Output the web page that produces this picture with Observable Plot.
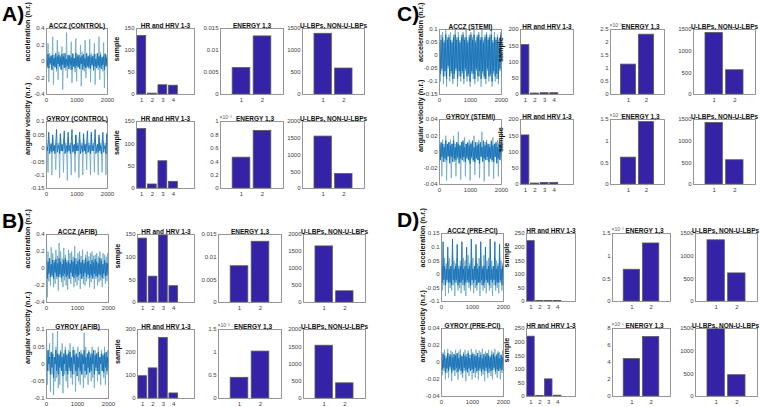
<!DOCTYPE html>
<html><head><meta charset="utf-8">
<script src="https://cdn.jsdelivr.net/npm/d3@7"></script>
<script src="https://cdn.jsdelivr.net/npm/@observablehq/plot@0.6"></script>
<style>
html,body{margin:0;padding:0}
body{background:#fff;width:760px;height:407px;position:relative;overflow:hidden;font-family:"Liberation Sans",Arial,sans-serif}
.p{position:absolute;line-height:0}
.p svg{display:block}
.lab{position:absolute;font-weight:bold;font-size:21px;line-height:21px;color:#000}
</style></head><body>
<div class="lab" style="left:2px;top:3px">A)</div>
<div class="lab" style="left:2px;top:210px">B)</div>
<div class="lab" style="left:397px;top:3px">C)</div>
<div class="lab" style="left:397px;top:209px">D)</div>
<script>
// ---------- DATA ----------
const hrCats = [1, 2, 3, 4];
const twoCats = [1, 2];
const hrTitle = "HR and HRV 1-3";
const enTitle = "ENERGY 1,3";
const lbpTitle = "U-LBPs, NON-U-LBPs";

const hrA1 = [133, 2, 21, 20];
const hrA2 = [133, 9, 61, 15];
const hrB1 = [141, 57, 148, 36];
const hrB2 = [97, 131, 263, 22];
const hrC1 = [152, 3, 4, 4];
const hrC2 = [151, 3, 5, 5];
const hrD1 = [222, 2, 2, 2];
const hrD2 = [220, 2, 63, 3];
const enA1 = [0.006, 0.0132];
const enA2 = [0.46e-3, 0.86e-3];
const enB1 = [0.008, 0.0134];
const enB2 = [0.45e-3, 1.02e-3];
const enC1 = [1.15e-3, 2.3e-3];
const enC2 = [0.62e-4, 1.44e-4];
const enD1 = [0.7e-3, 1.28e-3];
const enD2 = [4.4e-5, 7.0e-5];
const lbpA1 = [1380, 590];
const lbpA2 = [1550, 430];
const lbpB1 = [1650, 330];
const lbpB2 = [1530, 440];
const lbpC1 = [1420, 560];
const lbpC2 = [1420, 560];
const lbpD1 = [1350, 620];
const lbpD2 = [1500, 470];

const sigXTicks = [0, 1000, 2000];
const accTicksAB = [-0.4, -0.2, 0, 0.2, 0.4];
const gyrTicksA = [-0.15, -0.1, -0.05, 0, 0.05, 0.1];
const gyrTicksB = [-0.1, -0.05, 0, 0.05, 0.1];
const accTicksC = [-0.15, -0.1, -0.05, 0, 0.05, 0.1];
const gyrTicksCD = [-0.04, -0.02, 0, 0.02, 0.04];
const accTicksD = [-0.1, -0.05, 0, 0.05, 0.1, 0.15];
const hrTicks150 = [0, 50, 100, 150];
const hrTicks200 = [0, 50, 100, 150, 200];
const hrTicks250 = [0, 50, 100, 150, 200, 250];
const hrTicks300 = [0, 100, 200, 300];
const enTicks015 = [0, 0.005, 0.01, 0.015];
const enTicksA2 = [0, 0.2e-3, 0.4e-3, 0.6e-3, 0.8e-3, 1e-3];
const enTicksB2 = [0, 0.5e-3, 1e-3, 1.5e-3];
const enTicksC1 = [0, 0.5e-3, 1e-3, 1.5e-3, 2e-3, 2.5e-3];
const enTicksC2 = [0, 0.5e-4, 1e-4, 1.5e-4];
const enTicksD1 = [0, 0.5e-3, 1e-3, 1.5e-3];
const enTicksD2 = [0, 2e-5, 4e-5, 6e-5, 8e-5];
const lbpTicks1500 = [0, 500, 1000, 1500];
const lbpTicks2000 = [0, 500, 1000, 1500, 2000];

const accA_l = [0.05,-0.08,0.22,-0.25,0.1,-0.04,0.06,-0.1,0.3,-0.28,0.08,-0.06,0.04,-0.12,0.26,-0.22,0.12,-0.05,0.07,-0.09,0.18,-0.34,0.1,-0.03,0.05,-0.11,0.35,-0.2,0.06,-0.07,0.08,-0.1,0.24,-0.26,0.1,-0.05,0.04,-0.13,0.28,-0.24,0.09,-0.06,0.06,-0.08,0.2,-0.3,0.12,-0.04,0.05,-0.12,0.26,-0.2,0.08,-0.07,0.07,-0.09,0.27,-0.25,0.1,-0.05,0.04,-0.11,0.22,-0.28,0.09,-0.06,0.06,-0.1,0.3,-0.22,0.11,-0.05,0.05,-0.12,0.23,-0.32,0.1,-0.04,0.08,-0.2];
const accA_d = [0.03,-0.06,0.09,-0.08,0.05,-0.02,0.07,-0.1,0.08,-0.05,0.04,-0.07,0.1,-0.09,0.06,-0.03,0.08,-0.06,0.05,-0.1,0.09,-0.04,0.06,-0.08,0.1,-0.07,0.03,-0.05,0.08,-0.09,0.07,-0.04,0.05,-0.1,0.09,-0.06,0.04,-0.08,0.1,-0.05,0.06,-0.07,0.08,-0.09,0.05,-0.03,0.07,-0.1,0.09,-0.06,0.04,-0.08,0.1,-0.05,0.06,-0.07,0.08,-0.09,0.05,-0.04,0.07,-0.1,0.09,-0.06,0.03,-0.08,0.1,-0.05,0.06,-0.07,0.08,-0.09,0.05,-0.04,0.07,-0.1,0.09,-0.06,0.04,-0.05];
const gyrA_l = [0.01,0.0,-0.09,0.03,0.01,-0.01,0.02,-0.1,0.04,0.0,0.01,-0.02,-0.08,0.02,0.01,0.0,0.02,-0.11,0.05,0.01,-0.01,0.01,-0.09,0.03,0.0,0.02,-0.01,-0.12,0.04,0.01,0.0,0.02,-0.1,0.02,0.01,-0.01,0.01,-0.09,0.05,0.0,0.02,-0.01,-0.11,0.03,0.01,0.0,0.02,-0.1,0.04,0.01,-0.01,0.01,-0.08,0.02,0.0,0.02,-0.01,-0.1,0.05,0.01,0.0,0.02,-0.09,0.03,0.01,-0.01,0.01,-0.1,0.04,0.0,0.02,-0.01,-0.09,0.03,0.01,0.0,0.02,-0.1,0.05,0.01];
const gyrA_d = [0.01,-0.01,0.02,0.06,-0.02,0.0,0.015,-0.015,0.05,-0.01,0.01,-0.02,0.02,0.07,-0.015,0.005,0.01,-0.02,0.055,-0.01,0.015,-0.01,0.02,0.065,-0.02,0.0,0.01,-0.015,0.06,-0.01,0.01,-0.02,0.02,0.07,-0.015,0.005,0.015,-0.02,0.05,-0.01,0.01,-0.01,0.02,0.06,-0.02,0.0,0.01,-0.015,0.055,-0.01,0.015,-0.02,0.02,0.065,-0.015,0.005,0.01,-0.02,0.06,-0.01,0.01,-0.01,0.02,0.07,-0.02,0.0,0.015,-0.015,0.05,-0.01,0.01,-0.02,0.02,0.06,-0.015,0.005,0.01,-0.02,0.055,0.0];
const accB_l = [0.36,-0.34,0.2,-0.15,0.12,-0.2,0.25,-0.1,0.18,-0.22,0.1,-0.18,0.22,-0.12,0.15,-0.26,0.3,-0.1,0.2,-0.16,0.12,-0.22,0.24,-0.14,0.16,-0.2,0.1,-0.25,0.22,-0.12,0.18,-0.18,0.2,-0.1,0.14,-0.22,0.26,-0.16,0.12,-0.2,0.18,-0.14,0.2,-0.24,0.15,-0.12,0.22,-0.18,0.1,-0.2,0.16,-0.15,0.2,-0.12,0.14,-0.22,0.18,-0.16,0.2,-0.1,0.15,-0.24,0.16,-0.12,0.18,-0.2,0.14,-0.16,0.2,-0.14,0.12,-0.22,0.18,-0.12,0.16,-0.18,0.14,-0.15,0.18,-0.1];
const accB_d = [0.1,-0.12,0.08,-0.06,0.12,-0.1,0.05,-0.08,0.1,-0.12,0.07,-0.05,0.11,-0.09,0.06,-0.1,0.12,-0.07,0.08,-0.11,0.05,-0.09,0.1,-0.06,0.12,-0.1,0.07,-0.08,0.09,-0.12,0.06,-0.05,0.1,-0.09,0.08,-0.11,0.12,-0.07,0.05,-0.1,0.09,-0.08,0.11,-0.06,0.07,-0.12,0.1,-0.09,0.06,-0.05,0.12,-0.1,0.08,-0.07,0.09,-0.11,0.05,-0.08,0.1,-0.12,0.07,-0.06,0.11,-0.09,0.08,-0.1,0.06,-0.07,0.12,-0.08,0.09,-0.11,0.05,-0.06,0.1,-0.09,0.07,-0.08,0.06,-0.05];
const gyrB_l = [0.1,-0.06,0.04,-0.02,0.06,-0.08,0.03,-0.03,0.09,-0.09,0.02,-0.05,0.05,-0.04,0.095,-0.07,0.03,-0.06,0.04,-0.02,0.06,-0.085,0.02,-0.03,0.05,-0.05,0.03,-0.07,0.04,-0.02,0.06,-0.04,0.02,-0.06,0.05,-0.03,0.04,-0.08,0.03,-0.02,0.05,-0.05,0.02,-0.06,0.04,-0.03,0.03,-0.07,0.09,-0.04,0.05,-0.03,0.02,-0.06,0.04,-0.02,0.03,-0.05,0.05,-0.04,0.02,-0.07,0.04,-0.02,0.03,-0.05,0.05,-0.03,0.02,-0.06,0.04,-0.02,0.03,-0.04,0.05,-0.06,0.02,-0.03,0.04,-0.02];
const gyrB_d = [0.03,-0.02,0.04,0.0,0.02,-0.03,0.035,-0.01,0.03,-0.04,0.02,0.0,0.04,-0.02,0.03,-0.03,0.025,-0.01,0.035,-0.02,0.02,-0.035,0.03,0.0,0.04,-0.02,0.025,-0.03,0.03,-0.01,0.035,-0.02,0.02,-0.03,0.04,0.0,0.025,-0.02,0.03,-0.035,0.02,-0.01,0.035,-0.02,0.03,-0.03,0.025,0.0,0.04,-0.02,0.02,-0.03,0.03,-0.01,0.035,-0.025,0.02,-0.02,0.03,0.0,0.04,-0.03,0.025,-0.01,0.03,-0.02,0.035,-0.03,0.02,0.0,0.03,-0.02,0.025,-0.025,0.03,-0.01,0.035,-0.02,0.02,-0.01];
const accC_l = [0.05,-0.1,0.08,-0.06,0.09,-0.11,0.06,-0.08,0.1,-0.12,0.07,-0.05,0.08,-0.1,0.09,-0.07,0.06,-0.11,0.08,-0.09,0.1,-0.06,0.07,-0.12,0.09,-0.08,0.06,-0.1,0.08,-0.07,0.09,-0.11,0.07,-0.06,0.1,-0.1,0.06,-0.08,0.08,-0.12,0.09,-0.07,0.07,-0.09,0.1,-0.11,0.06,-0.06,0.08,-0.1,0.09,-0.08,0.07,-0.12,0.1,-0.07,0.06,-0.09,0.08,-0.11,0.09,-0.06,0.07,-0.1,0.08,-0.08,0.1,-0.12,0.06,-0.07,0.09,-0.1,0.07,-0.09,0.08,-0.11,0.06,-0.06,0.09,-0.08];
const accC_d = [0.04,-0.07,0.06,-0.05,0.07,-0.08,0.05,-0.06,0.08,-0.09,0.06,-0.04,0.07,-0.08,0.06,-0.06,0.05,-0.09,0.07,-0.07,0.08,-0.05,0.06,-0.09,0.07,-0.06,0.05,-0.08,0.07,-0.06,0.08,-0.09,0.06,-0.05,0.07,-0.08,0.05,-0.07,0.07,-0.1,0.08,-0.06,0.06,-0.07,0.08,-0.09,0.05,-0.05,0.07,-0.08,0.08,-0.06,0.06,-0.09,0.07,-0.06,0.05,-0.08,0.07,-0.09,0.08,-0.05,0.06,-0.08,0.07,-0.07,0.08,-0.1,0.05,-0.06,0.07,-0.08,0.06,-0.07,0.07,-0.09,0.05,-0.05,0.08,-0.06];
const gyrC_l = [0.005,-0.01,0.01,-0.03,0.015,-0.005,0.01,-0.012,0.02,-0.035,0.008,-0.006,0.012,-0.01,0.015,-0.032,0.01,-0.004,0.02,-0.012,0.01,-0.03,0.012,-0.008,0.025,-0.01,0.008,-0.034,0.01,-0.006,0.012,-0.012,0.018,-0.03,0.01,-0.005,0.01,-0.01,0.015,-0.035,0.012,-0.008,0.01,-0.012,0.02,-0.028,0.008,-0.006,0.012,-0.01,0.015,-0.032,0.01,-0.004,0.025,-0.012,0.01,-0.036,0.012,-0.008,0.015,-0.01,0.008,-0.03,0.01,-0.006,0.012,-0.012,0.018,-0.033,0.01,-0.005,0.01,-0.01,0.015,-0.03,0.012,-0.008,0.01,-0.005];
const gyrC_d = [0.008,-0.01,0.012,-0.006,0.01,-0.012,0.006,-0.008,0.014,-0.01,0.01,-0.005,0.012,-0.014,0.008,-0.006,0.01,-0.012,0.014,-0.008,0.006,-0.01,0.012,-0.006,0.01,-0.014,0.008,-0.008,0.012,-0.01,0.014,-0.006,0.006,-0.012,0.01,-0.008,0.012,-0.01,0.008,-0.014,0.01,-0.006,0.014,-0.01,0.006,-0.012,0.012,-0.008,0.008,-0.01,0.01,-0.014,0.012,-0.006,0.006,-0.012,0.014,-0.008,0.008,-0.01,0.012,-0.006,0.01,-0.012,0.006,-0.008,0.014,-0.01,0.008,-0.012,0.01,-0.006,0.012,-0.014,0.006,-0.008,0.01,-0.01,0.008,-0.004];
const accD_l = [0.05,-0.06,0.03,-0.04,0.06,-0.08,0.04,-0.03,0.05,-0.07,0.06,-0.05,0.03,-0.06,0.07,-0.04,0.05,-0.08,0.04,-0.03,0.06,-0.06,0.03,-0.05,0.05,-0.07,0.04,-0.04,0.06,-0.06,0.05,-0.08,0.03,-0.03,0.07,-0.05,0.04,-0.06,0.05,-0.04,0.06,-0.07,0.03,-0.05,0.05,-0.06,0.04,-0.03,0.06,-0.08,0.05,-0.04,0.03,-0.06,0.07,-0.05,0.04,-0.07,0.05,-0.03,0.06,-0.06,0.04,-0.05,0.05,-0.08,0.03,-0.04,0.06,-0.06,0.05,-0.05,0.04,-0.07,0.06,-0.03,0.05,-0.06,0.04,-0.04];
const accD_d = [0.02,-0.03,0.12,-0.02,0.03,-0.04,0.02,-0.02,0.1,-0.03,0.02,-0.03,0.03,-0.04,0.13,-0.02,0.02,-0.03,0.03,-0.02,0.11,-0.04,0.02,-0.03,0.03,-0.03,0.12,-0.02,0.02,-0.04,0.03,-0.03,0.1,-0.02,0.02,-0.03,0.03,-0.04,0.13,-0.02,0.02,-0.03,0.03,-0.02,0.11,-0.04,0.02,-0.03,0.03,-0.03,0.12,-0.02,0.02,-0.04,0.03,-0.03,0.1,-0.02,0.02,-0.03,0.03,-0.04,0.13,-0.02,0.02,-0.03,0.03,-0.02,0.12,-0.04,0.02,-0.03,0.03,-0.03,0.11,-0.02,0.02,-0.04,0.03,-0.02];
const gyrD_l = [0.01,-0.015,0.012,-0.01,0.015,-0.02,0.008,-0.012,0.016,-0.018,0.01,-0.008,0.014,-0.022,0.012,-0.01,0.009,-0.016,0.015,-0.012,0.01,-0.02,0.013,-0.009,0.016,-0.014,0.008,-0.018,0.012,-0.01,0.015,-0.022,0.01,-0.012,0.014,-0.016,0.009,-0.01,0.016,-0.02,0.012,-0.008,0.01,-0.018,0.015,-0.012,0.008,-0.02,0.014,-0.01,0.012,-0.016,0.016,-0.014,0.009,-0.022,0.013,-0.01,0.01,-0.018,0.015,-0.012,0.008,-0.016,0.014,-0.02,0.012,-0.009,0.016,-0.014,0.01,-0.018,0.013,-0.01,0.012,-0.02,0.009,-0.012,0.014,-0.01];
const gyrD_d = [0.006,-0.008,0.01,-0.006,0.008,-0.012,0.005,-0.007,0.011,-0.01,0.007,-0.005,0.009,-0.012,0.006,-0.008,0.01,-0.009,0.008,-0.006,0.011,-0.011,0.005,-0.007,0.009,-0.01,0.007,-0.012,0.01,-0.006,0.008,-0.009,0.006,-0.011,0.011,-0.007,0.005,-0.01,0.009,-0.008,0.01,-0.012,0.007,-0.006,0.008,-0.01,0.011,-0.009,0.006,-0.007,0.009,-0.011,0.005,-0.008,0.01,-0.01,0.007,-0.006,0.011,-0.012,0.008,-0.007,0.006,-0.01,0.009,-0.009,0.01,-0.006,0.007,-0.011,0.008,-0.008,0.011,-0.01,0.005,-0.007,0.009,-0.009,0.006,-0.005];

// ---------- LAYOUT (frame boxes in page pixels) ----------
const layout = {
  A: {cols: [[46,107],[136,194],[220,283],[302,364]], rows: [[28,94],[121,188]]},
  B: {cols: [[46,108],[137,194],[218,281],[303,365]], rows: [[234,302],[329,398]]},
  C: {cols: [[439,501],[520,573],[610,664],[693,755]], rows: [[29,94],[119,184]]},
  D: {cols: [[441,503],[526,575],[612,670],[695,757]], rows: [[233,301],[328,396]]}
};

const FONT = '"Liberation Sans", Arial, Helvetica, sans-serif';
const BAR_FILL = "#3423a6", BAR_STROKE = "#5a5a5a";
const LIGHT = "#6aa7c6", DARK = "#1570b8", FRAME = "#8c8c8c";
const fmt = d => String(+d.toFixed(6));

function place(svg, fx, fy, mL, mT) {
  const div = document.createElement("div");
  div.className = "p";
  div.style.left = (fx - mL) + "px";
  div.style.top = (fy - mT) + "px";
  div.appendChild(svg);
  document.body.appendChild(div);
}

function panel({box, xDomain, xTicks, yDomain, yTicks, yFormat, marks, title, titleDx = 0, ylabel, ylabelDx, expText}) {
  const [[x0, x1], [y0, y1]] = box;
  const mL = 42, mR = 6, mT = 16, mB = 14;
  const W = (x1 - x0) + mL + mR, H = (y1 - y0) + mT + mB;
  const extra = [
    Plot.frame({stroke: FRAME, strokeWidth: 0.9}),
    Plot.text([title], {frameAnchor: "top", dy: -5.5, dx: titleDx + (expText ? 3 : 0), text: d => d, fontWeight: "bold", fontSize: 6.5, fontFamily: FONT, fill: "#111"})
  ];
  if (ylabel) extra.push(Plot.text([ylabel], {frameAnchor: "left", dx: ylabelDx, rotate: -90, text: d => d, fontWeight: "bold", fontSize: 7.2, fontFamily: FONT, fill: "#111"}));
  if (expText) extra.push(Plot.text([expText], {frameAnchor: "top-left", dy: -6.5, dx: -1, textAnchor: "start", text: d => d, fontSize: 5, fontFamily: FONT, fill: "#555"}));
  const svg = Plot.plot({
    width: W, height: H,
    marginLeft: mL, marginRight: mR, marginTop: mT, marginBottom: mB,
    style: {background: "transparent", overflow: "visible", fontFamily: FONT, fontSize: "6px", color: "#404040", maxWidth: "none"},
    x: {domain: xDomain, ticks: xTicks, tickSize: 0, tickPadding: 3, tickFormat: fmt, label: null},
    y: {domain: yDomain, ticks: yTicks, tickSize: 0, tickPadding: 2, tickFormat: yFormat || fmt, label: null},
    marks: [...marks, ...extra]
  });
  svg.style.width = W + "px";
  svg.style.height = H + "px";
  place(svg, x0, y0, mL, mT);
}

function signalPanel(box, light, dark, yTicks, title, ylabel) {
  const sl = 2000 / (light.length - 1), sd = 2000 / (dark.length - 1);
  panel({
    box, xDomain: [0, 2000], xTicks: sigXTicks,
    yDomain: [yTicks[0], yTicks[yTicks.length - 1]], yTicks,
    title, ylabel, ylabelDx: -19,
    marks: [
      Plot.lineY(light, {x: (d, i) => i * sl, y: d => d, stroke: LIGHT, strokeWidth: 0.8}),
      Plot.lineY(dark, {x: (d, i) => i * sd, y: d => d, stroke: DARK, strokeWidth: 0.9})
    ]
  });
}

function barPanel(box, cats, vals, xDomain, yTicks, title, opts = {}) {
  const data = cats.map((c, i) => ({c, v: vals[i]}));
  const scale = opts.exp ? Math.pow(10, opts.exp) : 1;
  panel({
    box, xDomain, xTicks: cats,
    yDomain: [0, yTicks[yTicks.length - 1]], yTicks,
    yFormat: d => String(+(d / scale).toFixed(6)),
    title, titleDx: opts.titleDx || 0, ylabel: opts.ylabel, ylabelDx: -20,
    expText: opts.exp ? "\u00d710\u207b" + String(-opts.exp).replace(/\d/g, ch => "\u2070\u00b9\u00b2\u00b3\u2074\u2075\u2076\u2077\u2078\u2079"[+ch]) : null,
    marks: [
      Plot.rectY(data, {x1: d => d.c - 0.42, x2: d => d.c + 0.42, y: "v", fill: BAR_FILL, stroke: BAR_STROKE, strokeWidth: 0.8})
    ]
  });
}

function rowOf(q, r, sig, sigTicks, sigTitle, sigLabel, hr, hrTicks, en, enTicks, enExp, lbp, lbpTicks) {
  const L = layout[q], rows = L.rows[r];
  signalPanel([L.cols[0], rows], sig[0], sig[1], sigTicks, sigTitle, sigLabel);
  barPanel([L.cols[1], rows], hrCats, hr, [0.5, 6], hrTicks, hrTitle, {ylabel: "sample"});
  barPanel([L.cols[2], rows], twoCats, en, [0, 3], enTicks, enTitle, {exp: enExp});
  barPanel([L.cols[3], rows], twoCats, lbp, [0, 3], lbpTicks, lbpTitle, {titleDx: q === "D" ? -1 : 0});
}

const ACC = "acceleration (n.r.)", GYR = "angular velocity (n.r.)";
rowOf("A", 0, [accA_l, accA_d], accTicksAB, "ACCZ (CONTROL)", ACC, hrA1, hrTicks150, enA1, enTicks015, 0, lbpA1, lbpTicks1500);
rowOf("A", 1, [gyrA_l, gyrA_d], gyrTicksA, "GYROY (CONTROL)", GYR, hrA2, hrTicks150, enA2, enTicksA2, -3, lbpA2, lbpTicks2000);
rowOf("B", 0, [accB_l, accB_d], accTicksAB, "ACCZ (AFIB)", ACC, hrB1, hrTicks150, enB1, enTicks015, 0, lbpB1, lbpTicks2000);
rowOf("B", 1, [gyrB_l, gyrB_d], gyrTicksB, "GYROY (AFIB)", GYR, hrB2, hrTicks300, enB2, enTicksB2, -3, lbpB2, lbpTicks2000);
rowOf("C", 0, [accC_l, accC_d], accTicksC, "ACCZ (STEMI)", ACC, hrC1, hrTicks200, enC1, enTicksC1, -3, lbpC1, lbpTicks1500);
rowOf("C", 1, [gyrC_l, gyrC_d], gyrTicksCD, "GYROY (STEMI)", GYR, hrC2, hrTicks200, enC2, enTicksC2, -4, lbpC2, lbpTicks1500);
rowOf("D", 0, [accD_l, accD_d], accTicksD, "ACCZ (PRE-PCI)", ACC, hrD1, hrTicks250, enD1, enTicksD1, -3, lbpD1, lbpTicks1500);
rowOf("D", 1, [gyrD_l, gyrD_d], gyrTicksCD, "GYROY (PRE-PCI)", GYR, hrD2, hrTicks250, enD2, enTicksD2, -5, lbpD2, lbpTicks1500);
</script>
</body></html>
